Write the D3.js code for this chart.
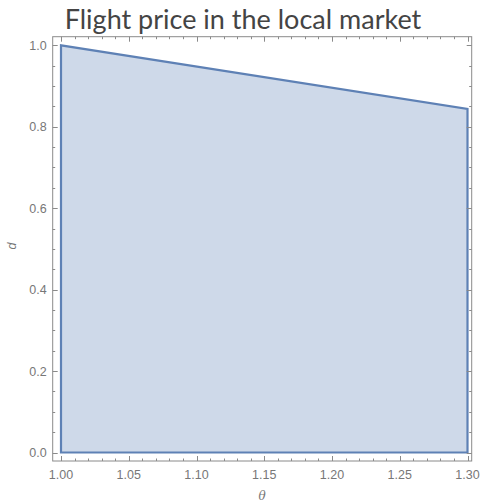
<!DOCTYPE html>
<html>
<head>
<meta charset="utf-8">
<script src="https://cdn.jsdelivr.net/npm/d3@7"></script>
<style>
  html, body { margin: 0; padding: 0; background: #fff; }
  svg { display: block; }
</style>
</head>
<body>
<svg id="chart" width="481" height="504"></svg>
<script>
// Region boundary: d as a function of theta
const thetaValues = [1.00, 1.30];
const dUpper = [1.0, 0.844];
const xTickLabels = ["1.00", "1.05", "1.10", "1.15", "1.20", "1.25", "1.30"];
const yTickLabels = ["0.0", "0.2", "0.4", "0.6", "0.8", "1.0"];

const title = "Flight price in the local market";
const xLabel = "θ";
const yLabel = "d";

const svg = d3.select("#chart");
const frame = { left: 52.7, top: 36.7, right: 471.7, bottom: 461 };

const x = d3.scaleLinear().domain([1.0, 1.3]).range([61, 467.5]);
const y = d3.scaleLinear().domain([0, 1]).range([452.5, 45.3]);

const lineColor = "#5e81b5";
const axisColor = "#8a8a8a";
const labelColor = "#777";

// Filled region under the boundary
const pts = thetaValues.map((t, i) => ({ t, d: dUpper[i] }));
const area = d3.area().x(p => x(p.t)).y0(y(0)).y1(p => y(p.d));
svg.append("path")
  .datum(pts)
  .attr("d", area)
  .attr("fill", lineColor)
  .attr("fill-opacity", 0.3)
  .attr("stroke", "none");

// Closed outline of the region
const outline = [
  { t: thetaValues[0], d: 0 },
  ...pts,
  { t: thetaValues[thetaValues.length - 1], d: 0 }
];
svg.append("path")
  .datum(outline)
  .attr("d", d3.line().x(p => x(p.t)).y(p => y(p.d)).curve(d3.curveLinearClosed))
  .attr("fill", "none")
  .attr("stroke", lineColor)
  .attr("stroke-width", 2.2)
  .attr("stroke-linejoin", "miter");

// Frame
svg.append("rect")
  .attr("x", frame.left).attr("y", frame.top)
  .attr("width", frame.right - frame.left)
  .attr("height", frame.bottom - frame.top)
  .attr("fill", "none")
  .attr("stroke", axisColor)
  .attr("stroke-width", 1);

// Ticks (inward-pointing) on all four sides
const xMajor = xTickLabels.map(Number);
const xMinor = d3.range(0, 31).map(i => 1 + i * 0.01).filter(v => !xMajor.some(m => Math.abs(m - v) < 1e-9));
const yMajor = yTickLabels.map(Number);
const yMinor = d3.range(0, 21).map(i => i * 0.05).filter(v => !yMajor.some(m => Math.abs(m - v) < 1e-9));

const ticks = svg.append("g").attr("stroke", axisColor).attr("stroke-width", 1);
function xTicks(vals, len) {
  vals.forEach(v => {
    const px = Math.round(x(v)) + 0.5;
    ticks.append("line").attr("x1", px).attr("x2", px).attr("y1", frame.bottom).attr("y2", frame.bottom - len);
    ticks.append("line").attr("x1", px).attr("x2", px).attr("y1", frame.top).attr("y2", frame.top + len);
  });
}
function yTicks(vals, len) {
  vals.forEach(v => {
    const py = Math.round(y(v)) + 0.5;
    ticks.append("line").attr("y1", py).attr("y2", py).attr("x1", frame.left).attr("x2", frame.left + len);
    ticks.append("line").attr("y1", py).attr("y2", py).attr("x1", frame.right).attr("x2", frame.right - len);
  });
}
xTicks(xMajor, 5); xTicks(xMinor, 2.5);
yTicks(yMajor, 5); yTicks(yMinor, 2.5);

// Tick labels
const tickFont = "'Liberation Sans', Arial, sans-serif";
svg.append("g").selectAll("text").data(xTickLabels).join("text")
  .attr("x", d => x(+d))
  .attr("y", frame.bottom + 18)
  .attr("text-anchor", "middle")
  .attr("font-family", tickFont)
  .attr("font-size", 12.5)
  .attr("fill", labelColor)
  .text(d => d);

svg.append("g").selectAll("text").data(yTickLabels).join("text")
  .attr("x", frame.left - 6)
  .attr("y", d => y(+d) + 4.5)
  .attr("text-anchor", "end")
  .attr("font-family", tickFont)
  .attr("font-size", 12.5)
  .attr("fill", labelColor)
  .text(d => d);

// Axis labels
svg.append("text")
  .attr("x", 262).attr("y", 500)
  .attr("text-anchor", "middle")
  .attr("font-family", "'DejaVu Serif', serif")
  .attr("font-style", "italic")
  .attr("font-size", 12)
  .attr("fill", labelColor)
  .text(xLabel);

svg.append("text")
  .attr("transform", "translate(16,246) rotate(-90)")
  .attr("text-anchor", "middle")
  .attr("font-family", tickFont)
  .attr("font-style", "italic")
  .attr("font-size", 12.5)
  .attr("fill", labelColor)
  .text(yLabel);

// Title
svg.append("text")
  .attr("x", 243).attr("y", 29)
  .attr("text-anchor", "middle")
  .attr("font-family", "Lato, 'Open Sans', sans-serif")
  .attr("font-size", 27)
  .attr("fill", "#444")
  .text(title);
</script>
</body>
</html>
